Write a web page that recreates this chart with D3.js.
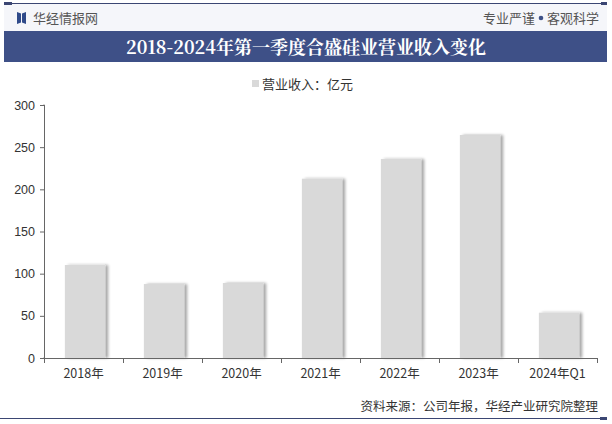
<!DOCTYPE html>
<html><head><meta charset="utf-8">
<script src="https://cdn.jsdelivr.net/npm/d3@7"></script>
<style>
html,body{margin:0;padding:0;background:#fff;}
svg{display:block;}
</style></head>
<body>
<svg id="c" width="612" height="424"></svg>
<script>
const categories = ["2018年","2019年","2020年","2021年","2022年","2023年","2024年Q1"];
const revenue = [110.3, 87.7, 88.9, 212.6, 236.0, 264.4, 53.7];
const yTicks = [0, 50, 100, 150, 200, 250, 300];
const titleText = "2018-2024年第一季度合盛硅业营业收入变化";
const legendText = "营业收入：亿元";
const sourceText = "资料来源：公司年报，华经产业研究院整理";

const svg = d3.select("#c");
const font = "'Noto Sans CJK SC','Microsoft YaHei',sans-serif";

// header background
svg.append("rect").attr("x",4).attr("y",4).attr("width",603).attr("height",27).attr("fill","#f5f6fa");
svg.append("line").attr("x1",4).attr("x2",607).attr("y1",3.5).attr("y2",3.5).attr("stroke","#3b4673").attr("stroke-width",1);
svg.append("rect").attr("x",4).attr("y",2).attr("width",8).attr("height",3).attr("fill","#3b4673");
svg.append("rect").attr("x",601).attr("y",2).attr("width",6).attr("height",3).attr("fill","#3b4673");
// logo
svg.append("path").attr("d","M17,12 L21,13.5 L21,22.5 L17,24 Z").attr("fill","#2f4a8a");
svg.append("path").attr("d","M26,12 L22,13.5 L22,22.5 L26,24 Z").attr("fill","#2f4a8a");
svg.append("text").attr("x",33).attr("y",22.5).attr("font-family",font).attr("font-size",13)
  .attr("fill","#555").text("华经情报网");
svg.append("text").attr("x",599).attr("y",22.5).attr("text-anchor","end").attr("font-family",font).attr("font-size",13)
  .attr("fill","#555").text("客观科学");
svg.append("circle").attr("cx",541).attr("cy",18).attr("r",2.3).attr("fill","#3e5087");
svg.append("text").attr("x",535).attr("y",22.5).attr("text-anchor","end").attr("font-family",font).attr("font-size",13)
  .attr("fill","#555").text("专业严谨");

// title band
svg.append("rect").attr("x",4).attr("y",31).attr("width",603).attr("height",31).attr("fill","#3e5087");
svg.append("text").attr("x",306).attr("y",54).attr("text-anchor","middle")
  .attr("font-family","'Noto Serif CJK SC','Noto Sans CJK SC',serif").attr("font-weight","bold")
  .attr("font-size",18).attr("fill","#fff").text(titleText);

// legend
svg.append("rect").attr("x",252).attr("y",80).attr("width",7).attr("height",7).attr("fill","#d9d9d9");
svg.append("text").attr("x",262).attr("y",89).attr("font-family",font).attr("font-size",13)
  .attr("fill","#333").text(legendText);

// chart
const x0 = 44, x1 = 597, yTop = 105, yBot = 358;
const x = d3.scaleBand().domain(categories).range([x0, x1]).paddingInner(0.49).paddingOuter(0.245);
const y = d3.scaleLinear().domain([0, 300]).range([yBot, yTop]);

// shadow filter
const defs = svg.append("defs");
const f = defs.append("filter").attr("id","sh").attr("x","-20%").attr("y","-10%").attr("width","150%").attr("height","120%");
f.append("feGaussianBlur").attr("in","SourceAlpha").attr("stdDeviation",1.5).attr("result","b");
f.append("feOffset").attr("in","b").attr("dx",3).attr("dy",0).attr("result","o");
f.append("feComponentTransfer").attr("in","o").attr("result","o2").append("feFuncA").attr("type","linear").attr("slope",0.35);
const m = f.append("feMerge"); m.append("feMergeNode").attr("in","o2"); m.append("feMergeNode").attr("in","SourceGraphic");

svg.append("g").selectAll("rect").data(revenue).join("rect")
  .attr("x",(d,i)=>x(categories[i])+1.5)
  .attr("y",d=>y(d))
  .attr("width",x.bandwidth())
  .attr("height",d=>yBot-y(d))
  .attr("fill","#d9d9d9")
  .attr("filter","url(#sh)");

// y axis
const yAxis = svg.append("g").attr("transform",`translate(${x0},0)`)
  .call(d3.axisLeft(y).tickValues(yTicks).tickSize(4).tickPadding(5));
yAxis.select(".domain").attr("stroke","#666").attr("d",`M-0.5,${yTop}H0.5V${yBot}H-0.5`);
yAxis.selectAll(".tick line").attr("stroke","#666");
yAxis.selectAll("text").attr("font-family","'Liberation Sans',Arial,sans-serif").attr("font-size",12.5).attr("fill","#333");

// x axis
const xAxis = svg.append("g").attr("transform",`translate(0,${yBot})`)
  .call(d3.axisBottom(x).tickSize(0).tickPadding(11));
xAxis.select(".domain").attr("stroke","#666").attr("d",`M${x0},0.5H${x1}`);
xAxis.selectAll("text").attr("font-family",font).attr("font-size",12.5).attr("fill","#333");
// boundary ticks
const bounds = categories.map(c=>x(c)-x.step()*x.paddingInner()/2).concat([x1]);
svg.append("g").selectAll("line").data(bounds).join("line")
  .attr("x1",d=>Math.round(d)+0.5).attr("x2",d=>Math.round(d)+0.5)
  .attr("y1",yBot).attr("y2",yBot+5).attr("stroke","#666");

// footer
svg.append("text").attr("x",598).attr("y",411).attr("text-anchor","end").attr("font-family",font)
  .attr("font-size",12.5).attr("fill","#333").text(sourceText);
svg.append("line").attr("x1",0).attr("x2",601).attr("y1",418.5).attr("y2",418.5).attr("stroke","#3b4673").attr("stroke-width",1);
svg.append("rect").attr("x",600).attr("y",417).attr("width",7).attr("height",3).attr("fill","#3b4673");
</script>
</body></html>
